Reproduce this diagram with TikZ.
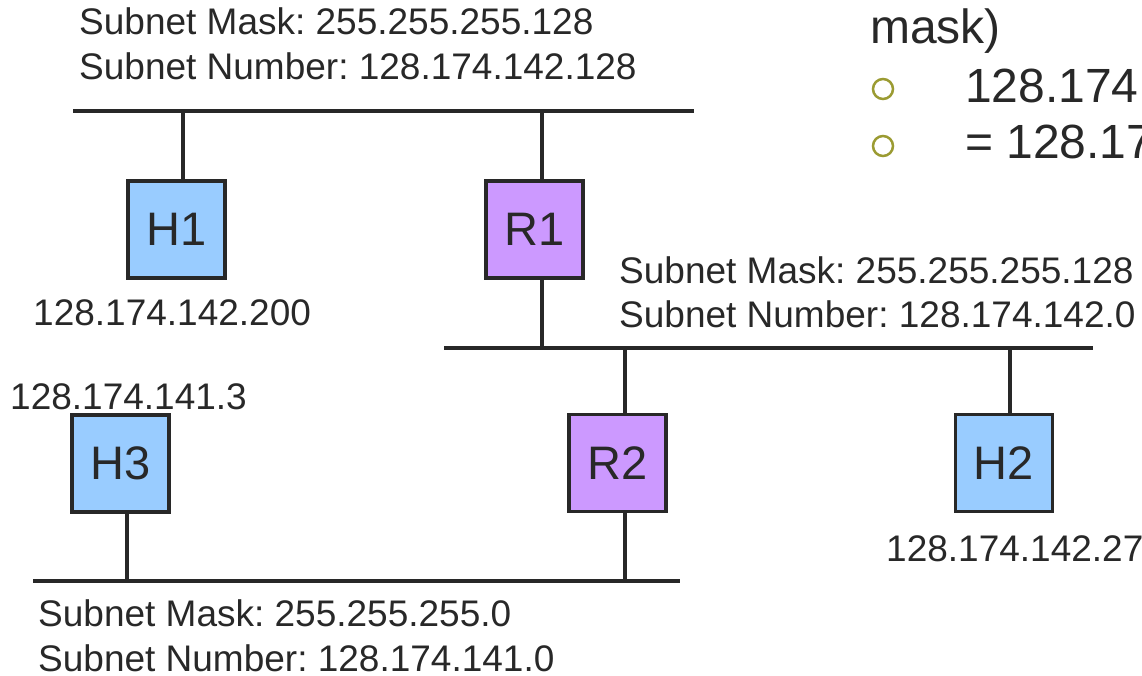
\documentclass[tikz,border=0pt]{standalone}
\usepackage{fontspec}
\setmainfont{Liberation Sans}
\frenchspacing
\definecolor{ink}{RGB}{40,40,40}
\definecolor{hostfill}{RGB}{153,204,255}
\definecolor{routerfill}{RGB}{204,153,255}
\definecolor{bulletcol}{RGB}{155,155,50}
\tikzset{
  bus/.style={draw=ink, line width=3.4pt},
  link/.style={draw=ink, line width=3.4pt},
  devbox/.style={draw=ink, line width=3.4pt, minimum width=97pt, minimum height=97pt,
    inner sep=0pt, text=ink, font=\fontsize{47}{52}\selectfont},
  hostbox/.style={devbox, fill=hostfill},
  routerbox/.style={devbox, fill=routerfill},
  lbl/.style={anchor=base west, inner sep=0pt, text=ink, font=\fontsize{37}{44}\selectfont},
  bigtxt/.style={anchor=base west, inner sep=0pt, text=ink, font=\fontsize{48}{56}\selectfont},
  bulletmark/.style={draw=bulletcol, line width=2.5pt, circle, minimum size=20pt, inner sep=0pt}
}
\begin{document}
\begin{tikzpicture}[x=1pt,y=-1pt]
\useasboundingbox (0,0) rectangle (1142,675);
\clip (0,0) rectangle (1142,675);

% side text
\node[bigtxt] (mask) at (870,43) {mask)};
\node[bulletmark] (b1) at (883,89) {};
\node[bulletmark] (b2) at (883,146) {};
\node[bigtxt] (t1) at (965,102) {128.174.142.27 AND 255.255.255.128};
\node[bigtxt] (t2) at (965,158) {= 128.174.142.0};

% bus lines
\coordinate (topL) at (73,111);
\coordinate (topR) at (694,111);
\coordinate (midL) at (444,348);
\coordinate (midR) at (1093,348);
\coordinate (botL) at (33,581);
\coordinate (botR) at (680,581);
\draw[bus] (topL) -- (topR);
\draw[bus] (midL) -- (midR);
\draw[bus] (botL) -- (botR);

% devices
\node[hostbox] (H1) at (176.5,229.5) {H1};
\node[routerbox] (R1) at (534.5,229.5) {R1};
\node[hostbox] (H3) at (120.5,463.5) {H3};
\node[routerbox] (R2) at (617.5,463) {R2};
\node[hostbox] (H2) at (1004,463) {H2};

% taps onto the buses
\coordinate (tH1) at (183,111);
\coordinate (tR1a) at (542,111);
\coordinate (tR1b) at (542,348);
\coordinate (tR2a) at (625,348);
\coordinate (tR2b) at (625,581);
\coordinate (tH2) at (1010,348);
\coordinate (tH3) at (127,581);
\draw[link] (tH1) -- (tH1 |- H1.north);
\draw[link] (tR1a) -- (tR1a |- R1.north);
\draw[link] (tR1b |- R1.south) -- (tR1b);
\draw[link] (tR2a) -- (tR2a |- R2.north);
\draw[link] (tR2b |- R2.south) -- (tR2b);
\draw[link] (tH2) -- (tH2 |- H2.north);
\draw[link] (tH3 |- H3.south) -- (tH3);

% subnet labels
\node[lbl] (m1) at (79,34) {Subnet Mask: 255.255.255.128};
\node[lbl] (n1) at (79,79) {Subnet Number: 128.174.142.128};
\node[lbl] (m2) at (619,283) {Subnet Mask: 255.255.255.128};
\node[lbl] (n2) at (619,327) {Subnet Number: 128.174.142.0};
\node[lbl] (m3) at (38,626) {Subnet Mask: 255.255.255.0};
\node[lbl] (n3) at (38,671) {Subnet Number: 128.174.141.0};

% host addresses
\node[lbl] (a1) at (33,325) {128.174.142.200};
\node[lbl] (a3) at (10,409) {128.174.141.3};
\node[lbl] (a2) at (886,561) {128.174.142.27};
\end{tikzpicture}
\end{document}
